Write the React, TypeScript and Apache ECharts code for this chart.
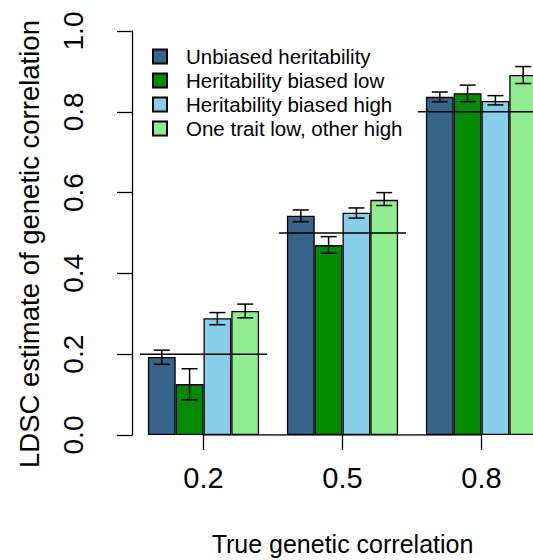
import React, { useEffect, useRef } from "react";
import * as echarts from "echarts";

// True genetic correlation (x categories)
const categories = ["0.2", "0.5", "0.8"];
const trueValues = [0.2, 0.5, 0.8];

const seriesNames = [
  "Unbiased heritability",
  "Heritability biased low",
  "Heritability biased high",
  "One trait low, other high",
];
const seriesColors = ["#36648B", "#008B00", "#87CEEB", "#90EE90"];

// LDSC estimates (bar heights)
const unbiased = [0.193, 0.543, 0.837];
const biasedLow = [0.126, 0.47, 0.846];
const biasedHigh = [0.289, 0.55, 0.827];
const lowHigh = [0.307, 0.582, 0.891];

// Error bar ends
const unbiasedLower = [0.175, 0.528, 0.825];
const unbiasedUpper = [0.21, 0.557, 0.849];
const biasedLowLower = [0.087, 0.45, 0.825];
const biasedLowUpper = [0.164, 0.491, 0.866];
const biasedHighLower = [0.273, 0.537, 0.817];
const biasedHighUpper = [0.303, 0.562, 0.84];
const lowHighLower = [0.29, 0.568, 0.87];
const lowHighUpper = [0.324, 0.6, 0.912];

const yTicks = [0, 0.2, 0.4, 0.6, 0.8, 1.0];

const FONT = "'Liberation Sans', Arial, Helvetica, sans-serif";
const BAR_FRACTION = 0.8; // bars occupy 4 of 5 units per group

export default function App() {
  const ref = useRef<HTMLDivElement>(null);

  useEffect(() => {
    if (!ref.current) return;
    const chart = echarts.init(ref.current, undefined, { renderer: "svg" });

    const means = [unbiased, biasedLow, biasedHigh, lowHigh];
    const lowers = [unbiasedLower, biasedLowLower, biasedHighLower, lowHighLower];
    const uppers = [unbiasedUpper, biasedLowUpper, biasedHighUpper, lowHighUpper];

    const errData: number[][] = [];
    for (let s = 0; s < means.length; s++) {
      for (let c = 0; c < categories.length; c++) {
        errData.push([c, s, lowers[s][c], uppers[s][c]]);
      }
    }
    const truthData = trueValues.map((v, i) => [i, v]);

    const barSeries = seriesNames.map((name, s) => ({
      name,
      type: "bar",
      data: means[s],
      barGap: "0%",
      barCategoryGap: "20%",
      itemStyle: {
        color: seriesColors[s],
        borderColor: "#000",
        borderWidth: 1.3,
      },
      emphasis: { disabled: true },
    }));

    chart.setOption({
      animation: false,
      backgroundColor: "#ffffff",
      textStyle: { fontFamily: FONT },
      grid: {
        left: 134,
        top: 31,
        width: 417,
        height: 404,
        outerBoundsMode: "none",
        containLabel: false,
      },
      legend: {
        data: seriesNames,
        orient: "vertical",
        left: 152,
        top: 46,
        padding: 0,
        itemWidth: 14,
        itemHeight: 14,
        itemGap: 3,
        icon: "rect",
        selectedMode: false,
        textStyle: {
          fontFamily: FONT,
          fontSize: 20.5,
          lineHeight: 20,
          color: "#000",
          padding: [0, 0, 0, 14],
        },
      },
      xAxis: {
        type: "category",
        data: categories,
        name: "True genetic correlation",
        nameLocation: "middle",
        nameGap: 96,
        nameTextStyle: { fontFamily: FONT, fontSize: 25, color: "#000" },
        axisLine: { show: false },
        axisTick: {
          show: true,
          alignWithLabel: true,
          length: 15,
          lineStyle: { color: "#000", width: 1.3 },
        },
        axisLabel: {
          fontFamily: FONT,
          fontSize: 29,
          color: "#000",
          margin: 28,
        },
        splitLine: { show: false },
      },
      yAxis: {
        type: "value",
        min: 0,
        max: 1,
        interval: 0.2,
        offset: 2,
        name: "LDSC estimate of genetic correlation",
        nameLocation: "middle",
        nameGap: 89,
        nameTextStyle: {
          fontFamily: FONT,
          fontSize: 27.5,
          color: "#000",
          padding: [0, 22, 0, 0],
        },
        axisLine: { show: true, lineStyle: { color: "#000", width: 1.3 } },
        axisTick: { show: true, length: 15, lineStyle: { color: "#000", width: 1.3 } },
        axisLabel: {
          rotate: 90,
          fontFamily: FONT,
          fontSize: 28,
          color: "#000",
          margin: 45,
          formatter: (v: number) => {
            const t = yTicks.find((y) => Math.abs(y - v) < 1e-9);
            return (t ?? v).toFixed(1);
          },
        },
        splitLine: { show: false },
      },
      series: [
        ...barSeries,
        {
          name: "baseline",
          type: "line",
          data: categories.map(() => 0),
          symbol: "none",
          lineStyle: { color: "#000", width: 1.3 },
          z: 5,
          silent: true,
        },
        {
          name: "truth",
          type: "custom",
          data: truthData,
          encode: { x: 0, y: 1 },
          z: 6,
          silent: true,
          renderItem: (params: any, api: any) => {
            const c = api.value(0);
            const v = api.value(1);
            const p = api.coord([c, v]);
            const band = api.size([1, 0])[0];
            const half = (band * BAR_FRACTION) / 2 + 8;
            return {
              type: "line",
              shape: { x1: p[0] - half, y1: p[1], x2: p[0] + half, y2: p[1] },
              style: { stroke: "#000", lineWidth: 1.4 },
            };
          },
        },
        {
          name: "errors",
          type: "custom",
          data: errData,
          encode: { x: 0, y: [2, 3] },
          z: 7,
          silent: true,
          renderItem: (params: any, api: any) => {
            const c = api.value(0);
            const s = api.value(1);
            const lo = api.coord([c, api.value(2)]);
            const hi = api.coord([c, api.value(3)]);
            const band = api.size([1, 0])[0];
            const barW = (band * BAR_FRACTION) / 4;
            const x = lo[0] - 2 * barW + (s + 0.5) * barW;
            const cap = 8;
            const st = { stroke: "#000", lineWidth: 1.5 };
            return {
              type: "group",
              children: [
                { type: "line", shape: { x1: x, y1: lo[1], x2: x, y2: hi[1] }, style: st },
                { type: "line", shape: { x1: x - cap, y1: lo[1], x2: x + cap, y2: lo[1] }, style: st },
                { type: "line", shape: { x1: x - cap, y1: hi[1], x2: x + cap, y2: hi[1] }, style: st },
              ],
            };
          },
        },
      ],
    });

    return () => chart.dispose();
  }, []);

  return (
    <div
      ref={ref}
      style={{ position: "absolute", left: 0, top: 0, width: 533, height: 560, background: "#fff" }}
    />
  );
}
